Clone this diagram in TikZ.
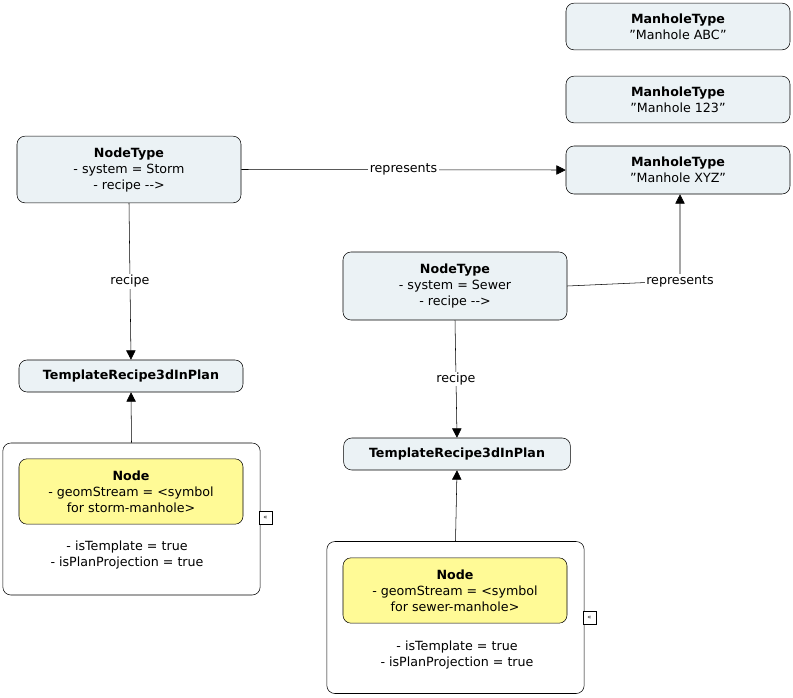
\documentclass[tikz,border=0pt]{standalone}
\usepackage{fontspec}
\setmainfont{DejaVu Sans}
\usetikzlibrary{arrows.meta}
\definecolor{boxfill}{HTML}{EBF2F5}
\definecolor{nodefill}{HTML}{FFFA96}
\tikzset{
  concept/.style = {draw, rounded corners=6pt, fill=boxfill, align=center, inner sep=0pt},
  holder/.style = {draw, rounded corners=6pt, fill=white, inner sep=0pt},
  link/.style = {draw, -{Triangle[length=7pt, width=7pt]}},
  lbl/.style = {fill=white, inner sep=1pt},
  fold/.style = {draw, fill=white, inner sep=0pt, minimum size=10pt, font=\tiny}
}
\begin{document}
\begin{tikzpicture}[x = {(0.75pt, 0pt)}, y = {(0pt, -0.75pt)}, font=\fontsize{9.5}{12}\selectfont]
  \useasboundingbox (0, 0) rectangle (793, 697);

  % manhole types
  \node[concept, minimum width=168pt, minimum height=35pt] (mhabc) at (678, 26.5) {\textbf{ManholeType}\\"Manhole ABC"};
  \node[concept, minimum width=168pt, minimum height=35pt] (mh123) at (678, 99.5) {\textbf{ManholeType}\\"Manhole 123"};
  \node[concept, minimum width=168pt, minimum height=36pt] (mhxyz) at (678, 170) {\textbf{ManholeType}\\"Manhole XYZ"};

  % node types
  \node[concept, minimum width=168pt, minimum height=50pt] (storm) at (129, 169.5) {\textbf{NodeType}\\- system = Storm\\- recipe -{}->};
  \node[concept, minimum width=168pt, minimum height=51pt] (sewer) at (455, 286) {\textbf{NodeType}\\- system = Sewer\\- recipe -{}->};

  % recipes
  \node[concept, minimum width=168pt, minimum height=24pt] (tplL) at (131, 376) {\textbf{TemplateRecipe3dInPlan}};
  \node[concept, minimum width=170pt, minimum height=24pt] (tplR) at (457, 454) {\textbf{TemplateRecipe3dInPlan}};

  % templates
  \node[holder, minimum width=193pt, minimum height=114pt] (outL) at (131.5, 519) {};
  \node[concept, fill=nodefill, minimum width=168pt, minimum height=49pt] (nodeL) at (131, 491.5) {\textbf{Node}\\- geomStream = <symbol\\for storm-manhole>};
  \node[align=center] (propL) at (127, 555) {- isTemplate = true\\- isPlanProjection = true};
  \node[fold] (foldL) at (265.5, 518) {\guillemotleft};

  \node[holder, minimum width=193pt, minimum height=114pt] (outR) at (455.5, 617.5) {};
  \node[concept, fill=nodefill, minimum width=168pt, minimum height=49pt] (nodeR) at (455, 590.5) {\textbf{Node}\\- geomStream = <symbol\\for sewer-manhole>};
  \node[align=center] (propR) at (457, 655) {- isTemplate = true\\- isPlanProjection = true};
  \node[fold] (foldR) at (589.5, 618) {\guillemotleft};

  % links
  \coordinate (bend) at (680, 281);
  \draw[link] (storm.east) -- node[lbl] {represents} (mhxyz.west);
  \draw[link] (sewer.east) -- (bend) node[lbl] {represents} -- (mhxyz.south -| bend);
  \draw[link] (storm.south) -- node[lbl] {recipe} (tplL.north);
  \draw[link] (sewer.south) -- node[lbl] {recipe} (tplR.north);
  \draw[link] (outL.north) -- (tplL.south);
  \draw[link] (outR.north) -- (tplR.south);
\end{tikzpicture}
\end{document}
